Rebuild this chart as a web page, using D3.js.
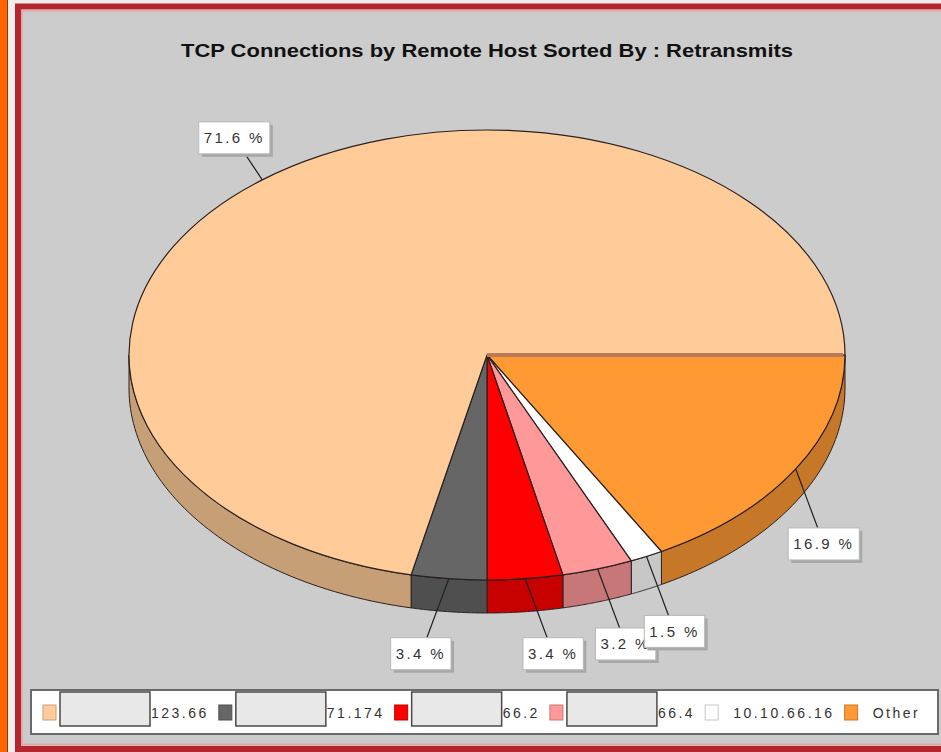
<!DOCTYPE html>
<html>
<head>
<meta charset="utf-8">
<script src="https://cdn.jsdelivr.net/npm/d3@7"></script>
<style>
  body { margin: 0; background: #fff; }
  svg { display: block; }
</style>
</head>
<body>
<div id="chart"></div>
<script>
// legend order (as in the legend strip)
const hostLabels = ['123.66', '71.174', '66.2', '66.4', '10.10.66.16', 'Other'];
const hostHidden = [true, true, true, true, false, false]; // part of the name is blanked out
const sharePct = [71.6, 3.4, 3.4, 3.2, 1.5, 16.9];
const sliceColors = ['#ffcc99', '#666666', '#ff0000', '#ff9999', '#ffffff', '#ff9933'];
const chartTitle = 'TCP Connections by Remote Host Sorted By : Retransmits';

const width = 941, height = 752;
const cx = 487, cy = 355;   // centre of the top face
const rx = 358, ry = 225;   // ellipse radii
const depth = 33;           // thickness of the 3d pie

const svg = d3.select('#chart').append('svg')
  .attr('width', width)
  .attr('height', height);

// frame: orange strip on the left, red bordered grey panel
svg.append('rect').attr('x', 0).attr('y', 0).attr('width', 8).attr('height', height).attr('fill', '#ff6600');
svg.append('line').attr('x1', 7.5).attr('x2', 7.5).attr('y1', 0).attr('y2', height).attr('stroke', '#8a3a00');
svg.append('rect').attr('x', 8).attr('y', 0).attr('width', width - 8).attr('height', height).attr('fill', '#f3eeee');
svg.append('rect')
  .attr('x', 18).attr('y', 6.5)
  .attr('width', width + 20).attr('height', 742.5)
  .attr('fill', '#cccccc')
  .attr('stroke', '#b3262d')
  .attr('stroke-width', 6);
svg.append('rect')
  .attr('x', 22).attr('y', 10.5)
  .attr('width', width + 20).attr('height', 734)
  .attr('fill', 'none')
  .attr('stroke', '#e4a6a6')
  .attr('stroke-width', 2);

// title
svg.append('text')
  .attr('x', cx).attr('y', 57)
  .attr('text-anchor', 'middle')
  .attr('textLength', 612)
  .attr('lengthAdjust', 'spacingAndGlyphs')
  .style('font-family', '"Liberation Sans Narrow", "Liberation Sans", Arial, sans-serif')
  .style('font-weight', 'bold')
  .style('font-size', '19px')
  .style('fill', '#111')
  .text(chartTitle);

// pie goes clockwise from 3 o'clock, in reverse legend order
const pieData = hostLabels.map((name, i) => ({
  name: name,
  value: sharePct[i],
  color: sliceColors[i]
})).reverse();

const pie = d3.pie()
  .sort(null)
  .value(d => d.value)
  .startAngle(Math.PI / 2)
  .endAngle(Math.PI / 2 + 2 * Math.PI);

const arcs = pie(pieData);

// screen angle (0 = 3 o'clock, clockwise) -> point on the ellipse
const toTheta = a => a - Math.PI / 2;
const ellipsePt = (t, dy = 0) => [cx + rx * Math.cos(t), cy + ry * Math.sin(t) + dy];

const sideColor = c => d3.color(c).darker(0.7).formatHex();

// side walls (front half only)
const sideG = svg.append('g');
arcs.forEach(d => {
  const t0 = Math.max(toTheta(d.startAngle), 0);
  const t1 = Math.min(toTheta(d.endAngle), Math.PI);
  if (t1 <= t0) return;
  const steps = d3.range(0, 61).map(k => t0 + (t1 - t0) * k / 60);
  const top = steps.map(t => ellipsePt(t));
  const bottom = steps.slice().reverse().map(t => ellipsePt(t, depth));
  sideG.append('path')
    .attr('d', d3.line()(top.concat(bottom)) + 'Z')
    .attr('fill', sideColor(d.data.color))
    .attr('stroke', '#2a2020')
    .attr('stroke-width', 1);
});

// top faces: circular arcs squashed into an ellipse
const arcGen = d3.arc().innerRadius(0).outerRadius(rx);
const topG = svg.append('g')
  .attr('transform', `translate(${cx},${cy}) scale(1,${ry / rx})`);

topG.selectAll('path')
  .data(arcs)
  .enter().append('path')
  .attr('d', arcGen)
  .attr('fill', d => d.data.color)
  .attr('stroke', '#2a2020')
  .attr('stroke-width', 1.2)
  .attr('vector-effect', 'non-scaling-stroke');

// the seam at 3 o'clock shows as a brown band
const seam = ellipsePt(toTheta(arcs[0].startAngle));
svg.append('line')
  .attr('x1', cx).attr('y1', cy)
  .attr('x2', seam[0] - 2).attr('y2', seam[1])
  .attr('stroke', '#b87a58')
  .attr('stroke-width', 4);

// labels, drawn in legend order so the later ones sit on top
const labelFont = '"Liberation Sans", Arial, sans-serif';
const labelG = svg.append('g');
arcs.slice().reverse().forEach(d => {
  const t = toTheta((d.startAngle + d.endAngle) / 2);
  const p = ellipsePt(t);
  const lx = p[0] + (Math.cos(t) >= 0 ? 28 : -28);
  const ly = Math.sin(t) > 0 ? p[1] + 75 : p[1] - 42;

  labelG.append('line')
    .attr('x1', p[0]).attr('y1', p[1])
    .attr('x2', lx).attr('y2', ly)
    .attr('stroke', '#222')
    .attr('stroke-width', 1.2);

  const g = labelG.append('g');
  const txt = g.append('text')
    .attr('x', lx).attr('y', ly + 5.5)
    .attr('text-anchor', 'middle')
    .style('font-family', labelFont)
    .style('font-size', '15px')
    .style('letter-spacing', '2.4px')
    .style('fill', '#333')
    .text(`${d.data.value.toFixed(1)} %`);
  const w = txt.node().getComputedTextLength() + 10;
  g.insert('rect', 'text')
    .attr('x', lx - w / 2 + 3).attr('y', ly - 16 + 3)
    .attr('width', w).attr('height', 32)
    .attr('fill', '#a8a8a8');
  g.insert('rect', 'text')
    .attr('x', lx - w / 2).attr('y', ly - 16)
    .attr('width', w).attr('height', 32)
    .attr('fill', '#fff')
    .attr('stroke', '#b8b8b8');
});

// legend strip
const legend = svg.append('g');
legend.append('rect')
  .attr('x', 31).attr('y', 690)
  .attr('width', 907).attr('height', 44)
  .attr('fill', '#fff')
  .attr('stroke', '#6a6a6a')
  .attr('stroke-width', 2);

let xPos = 43;
hostLabels.forEach((name, i) => {
  legend.append('rect')
    .attr('x', xPos).attr('y', 705)
    .attr('width', 13).attr('height', 15)
    .attr('fill', sliceColors[i])
    .attr('stroke', sideColor(sliceColors[i]))
    .attr('stroke-width', 1);
  xPos += 13;
  if (hostHidden[i]) {
    xPos += 4;
    legend.append('rect')
      .attr('x', xPos).attr('y', 692)
      .attr('width', 90).attr('height', 34)
      .attr('fill', '#e8e8e8')
      .attr('stroke', '#4a4a4a')
      .attr('stroke-width', 1.5);
    xPos += 91;
  } else {
    xPos += 15;
  }
  const t = legend.append('text')
    .attr('x', xPos).attr('y', 718)
    .style('font-family', labelFont)
    .style('font-size', '14px')
    .style('letter-spacing', '2.5px')
    .style('fill', '#333')
    .text(name);
  xPos += t.node().getComputedTextLength() + 10;
});
</script>
</body>
</html>
